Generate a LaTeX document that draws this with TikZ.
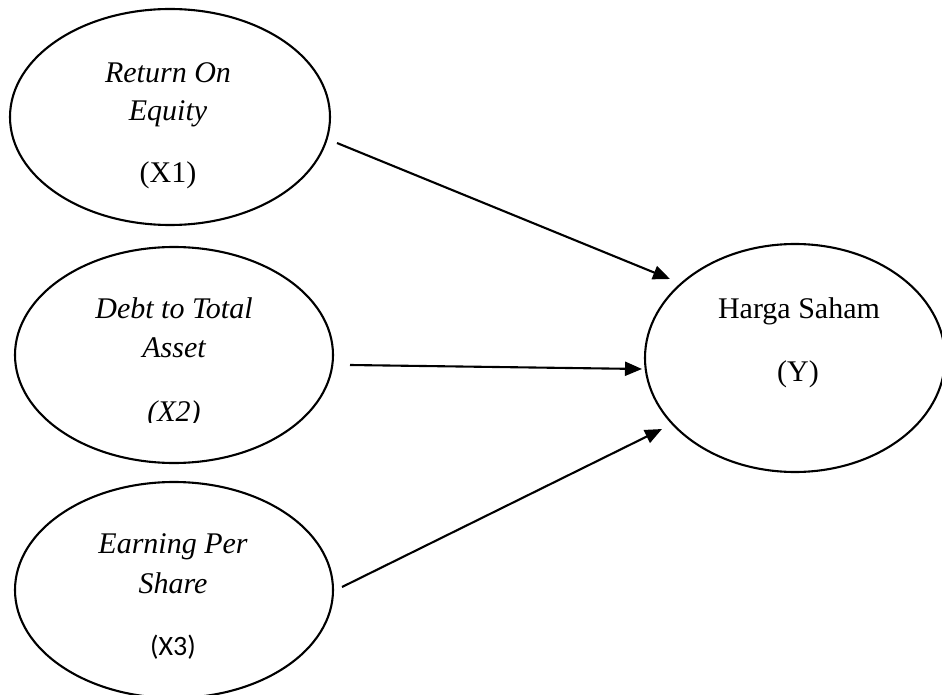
\documentclass[tikz,border=0pt]{standalone}
\usepackage{fontspec}
\setmainfont{Liberation Serif}
\newfontfamily\calibrifont{Carlito}
\usetikzlibrary{arrows.meta,shapes.geometric}
\begin{document}
\begin{tikzpicture}[x=1pt,y=-1pt,
  ell/.style={draw, line width=2.1pt, ellipse, inner sep=0pt},
  lbl/.style={anchor=base, inner sep=0pt, font=\fontsize{30}{36}\selectfont},
  conn/.style={line width=2.1pt, -{Triangle[length=17pt,width=14pt]}}]
\useasboundingbox (0,0) rectangle (942,695);
% ellipses
\node[ell, minimum width=320pt, minimum height=216pt] (x1) at (170,117) {};
\node[ell, minimum width=318pt, minimum height=216pt] (x2) at (174,355) {};
\node[ell, minimum width=318pt, minimum height=216pt] (x3) at (174,590) {};
\node[ell, minimum width=300pt, minimum height=228pt] (y) at (795,358) {};
% labels
\node[lbl] (t1a) at (168,83) {\itshape Return On};
\node[lbl] (t1b) at (168,121) {\itshape Equity};
\node[lbl] (t1c) at (168,183) {(X1)};
\node[lbl] (t2a) at (174,318) {\itshape Debt to Total};
\node[lbl] (t2b) at (174,357) {\itshape Asset};
\begin{scope}
  \clip (100,380) rectangle (250,422);
  \node[lbl] (t2c) at (174,421) {\itshape (X2)};
\end{scope}
\node[lbl] (t3a) at (173,553) {\itshape Earning Per};
\node[lbl] (t3b) at (173,593) {\itshape Share};
\node[lbl, font=\calibrifont\fontsize{28}{34}\selectfont] (t3c) at (173,655) {(X3)};
\node[lbl] (tya) at (799,318) {Harga Saham};
\node[lbl] (tyb) at (798,381) {(Y)};
% connector endpoints
\coordinate (s1) at (337,143);
\coordinate (e1) at (670,279);
\coordinate (s2) at (350,365);
\coordinate (e2) at (642,369);
\coordinate (s3) at (342,587);
\coordinate (e3) at (662,429);
\draw[conn] (s1) -- (e1);
\draw[conn] (s2) -- (e2);
\draw[conn] (s3) -- (e3);
\end{tikzpicture}
\end{document}
